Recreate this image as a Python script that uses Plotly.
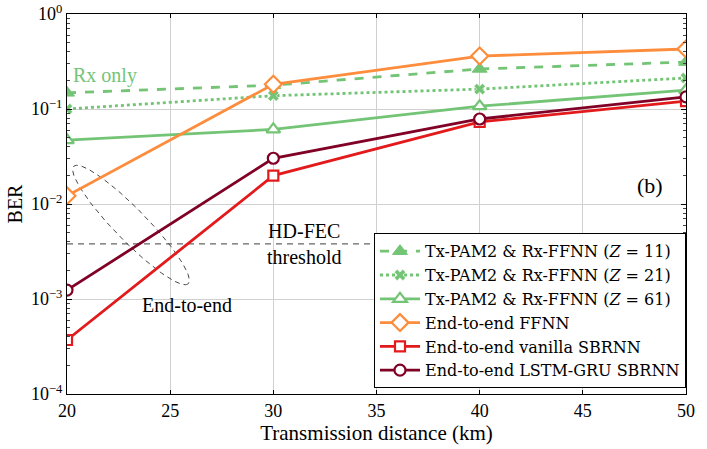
import numpy as np
import plotly.graph_objects as go

distance = [20, 30, 40, 50]
ber_z11 = [0.148, 0.178, 0.264, 0.312]
ber_z21 = [0.100, 0.138, 0.162, 0.212]
ber_z61 = [0.047, 0.061, 0.107, 0.158]
ber_e2e_ffnn = [0.0122, 0.182, 0.361, 0.428]
ber_e2e_vanilla = [3.7e-4, 0.0199, 0.073, 0.121]
ber_e2e_lstm = [1.24e-3, 0.0303, 0.0785, 0.134]
hd_fec = 3.8e-3

names = ["Tx-PAM2 & Rx-FFNN (<i>Z</i> = 11)",
         "Tx-PAM2 & Rx-FFNN (<i>Z</i> = 21)",
         "Tx-PAM2 & Rx-FFNN (<i>Z</i> = 61)",
         "End-to-end FFNN",
         "End-to-end vanilla SBRNN",
         "End-to-end LSTM-GRU SBRNN"]

GREEN = "#74c476"
ORANGE = "#fd8d3c"
RED = "#e31a1c"
MAROON = "#800026"
FONT = "Liberation Serif, DejaVu Serif, serif"
LFONT = "DejaVu Serif, Liberation Serif, serif"

fig = go.Figure()

# HD-FEC threshold
fig.add_trace(go.Scatter(x=[distance[0], distance[-1]], y=[hd_fec, hd_fec], mode="lines",
                         line=dict(color="#666666", width=1.3, dash="6px,5px"),
                         showlegend=False, hoverinfo="skip"))

# dashed ellipse around end-to-end points at 20 km (annotation)
W, H = 619.0, 380.0
cx, cy = 131 - 67, 225 - 14
a, b = 82.0, 16.0
ang = np.deg2rad(45.7)
t = np.linspace(0, 2 * np.pi, 200)
px = cx + a * np.cos(t) * np.cos(ang) - b * np.sin(t) * np.sin(ang)
py = cy + a * np.cos(t) * np.sin(ang) + b * np.sin(t) * np.cos(ang)
ex = 20 + px / W * 30
ey = 10 ** (0 - py / H * 4)
fig.add_trace(go.Scatter(x=ex, y=ey, mode="lines",
                         line=dict(color="#333333", width=0.9, dash="5px,4px"),
                         showlegend=False, hoverinfo="skip"))

series = [
    (ber_z11, GREEN, "dash", dict(symbol="triangle-up", size=13, color=GREEN, line=dict(color=GREEN, width=1))),
    (ber_z21, GREEN, "dot", dict(symbol="x", size=10, color=GREEN, line=dict(color="white", width=0.5))),
    (ber_z61, GREEN, "solid", dict(symbol="triangle-up", size=12, color="white", line=dict(color=GREEN, width=2.2))),
    (ber_e2e_ffnn, ORANGE, "solid", dict(symbol="diamond", size=13, color="white", line=dict(color=ORANGE, width=2.2))),
    (ber_e2e_vanilla, RED, "solid", dict(symbol="square", size=10, color="white", line=dict(color=RED, width=2.2))),
    (ber_e2e_lstm, MAROON, "solid", dict(symbol="circle", size=11, color="white", line=dict(color=MAROON, width=2.2))),
]
for name, (ys, col, dash, mk) in zip(names, series):
    fig.add_trace(go.Scatter(x=distance, y=ys, name=name, mode="lines+markers",
                             line=dict(color=col, width=2.8, dash=dash), marker=mk))

ann_font = dict(family=FONT, size=20, color="black")
fig.add_annotation(x=20.2, y=np.log10(0.225), text="Rx only", showarrow=False, xanchor="left",
                   font=dict(family=FONT, size=20, color=GREEN))
fig.add_annotation(x=25.8, y=np.log10(8.7e-4), text="End-to-end", showarrow=False, font=ann_font)
fig.add_annotation(x=31.5, y=np.log10(hd_fec), text="HD-FEC<br>threshold", showarrow=False, font=ann_font)
fig.add_annotation(x=48.25, y=np.log10(0.0158), text="(b)", showarrow=False, font=dict(family=FONT, size=22, color="black"))

fig.update_layout(
    width=707, height=449,
    margin=dict(l=67, r=21, t=14, b=55),
    paper_bgcolor="white", plot_bgcolor="white",
    font=dict(family=FONT, size=18, color="black"),
    showlegend=True,
    legend=dict(x=1, xanchor="right", y=0.015, yanchor="bottom",
                bgcolor="white", bordercolor="black", borderwidth=1,
                font=dict(family=LFONT, size=16), tracegroupgap=0, itemwidth=40),
)
fig.update_xaxes(range=[20, 50], tickvals=[20, 25, 30, 35, 40, 45, 50], automargin=False,
                 showgrid=True, gridcolor="#d0d0d0", gridwidth=1,
                 showline=True, linecolor="black", linewidth=1.2, mirror="ticks",
                 ticks="inside", ticklen=4, tickcolor="black",
                 zeroline=False, tickfont=dict(family=FONT, size=18),
                 title=dict(text="Transmission distance (km)", font=dict(family=FONT, size=21), standoff=2))
fig.update_yaxes(type="log", range=[-4, 0], automargin=False,
                 tickvals=[1e-4, 1e-3, 1e-2, 1e-1, 1],
                 ticktext=["10<sup>−4</sup>", "10<sup>−3</sup>", "10<sup>−2</sup>", "10<sup>−1</sup>", "10<sup>0</sup>"],
                 showgrid=True, gridcolor="#d0d0d0", gridwidth=1,
                 showline=True, linecolor="black", linewidth=1.2, mirror="ticks",
                 ticks="inside", ticklen=5, tickcolor="black",
                 minor=dict(ticks="inside", ticklen=3, tickcolor="#444444", showgrid=False,
                            tickvals=[m * 10.0 ** e for e in range(-4, 0) for m in range(2, 10)]),
                 zeroline=False, tickfont=dict(family=FONT, size=18),
                 title=dict(text="BER", font=dict(family=FONT, size=20), standoff=2))

fig.write_html("out.html")
